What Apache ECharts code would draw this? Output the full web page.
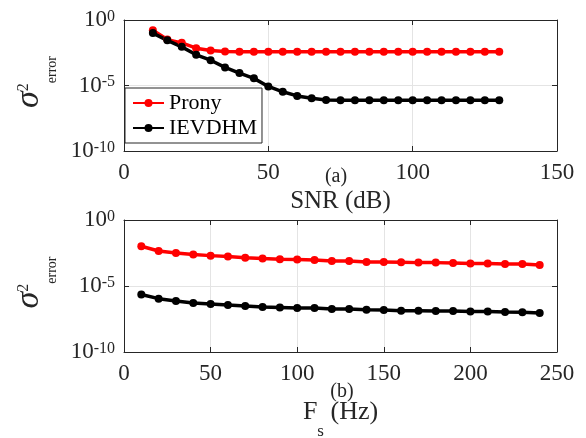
<!DOCTYPE html>
<html>
<head>
<meta charset="utf-8">
<script src="https://cdn.jsdelivr.net/npm/echarts@6/dist/echarts.min.js"></script>
<style>
  html, body { margin: 0; padding: 0; background: #fff; }
  #chart { width: 586px; height: 438px; }
</style>
</head>
<body>
<div id="chart"></div>
<script>
// Error variance versus SNR (a) and versus sampling frequency (b)
const snrDb = [10, 15, 20, 25, 30, 35, 40, 45, 50, 55, 60, 65, 70, 75, 80, 85, 90, 95, 100, 105, 110, 115, 120, 125, 130];
const pronyBySnr = [1.66e-1, 3.2e-2, 1.8e-2, 7.1e-3, 4.7e-3, 4.0e-3, 3.8e-3, 3.8e-3, 3.8e-3, 3.8e-3, 3.8e-3, 3.8e-3, 3.8e-3,
  3.8e-3, 3.8e-3, 3.8e-3, 3.8e-3, 3.8e-3, 3.8e-3, 3.8e-3, 3.8e-3, 3.8e-3, 3.8e-3, 3.8e-3, 3.8e-3];
const ievdhmBySnr = [1.0e-1, 2.8e-2, 8.9e-3, 2.2e-3, 8.5e-4, 2.4e-4, 8.9e-5, 3.5e-5, 8.5e-6, 3.3e-6, 1.6e-6, 1.05e-6, 7.9e-7,
  7.6e-7, 7.6e-7, 7.6e-7, 7.6e-7, 7.6e-7, 7.6e-7, 7.6e-7, 7.6e-7, 7.6e-7, 7.6e-7, 7.6e-7, 7.6e-7];

const fsHz = [10, 20, 30, 40, 50, 60, 70, 80, 90, 100, 110, 120, 130, 140, 150, 160, 170, 180, 190, 200, 210, 220, 230, 240];
const pronyByFs = [1.02e-2, 4.5e-3, 3.2e-3, 2.4e-3, 2.0e-3, 1.7e-3, 1.41e-3, 1.2e-3, 1.05e-3, 1.0e-3, 9.5e-4, 7.9e-4,
  7.9e-4, 6.6e-4, 6.6e-4, 6.3e-4, 5.9e-4, 5.9e-4, 5.5e-4, 5.0e-4, 5.0e-4, 4.7e-4, 4.7e-4, 3.9e-4];
const ievdhmByFs = [2.3e-6, 1.1e-6, 7.4e-7, 5.2e-7, 4.4e-7, 3.6e-7, 3.0e-7, 2.6e-7, 2.4e-7, 2.2e-7, 2.2e-7, 1.8e-7,
  1.8e-7, 1.6e-7, 1.5e-7, 1.35e-7, 1.35e-7, 1.3e-7, 1.3e-7, 1.15e-7, 1.15e-7, 1.07e-7, 1.02e-7, 8.9e-8];

const snrTicks = [0, 50, 100, 150];
const fsTicks = [0, 50, 100, 150, 200, 250];
const errorTicks = [1e-10, 1e-5, 1];

const FONT = 'Liberation Serif';
const INK = '#262626';
const GRID_LINE = '#e4e4e4';

function pairs(xs, ys) { return xs.map((x, i) => [x, ys[i]]); }

function powerLabel(v) {
  const e = Math.round(Math.log10(v));
  return '{b|10}{p|' + e + '}';
}

const powerRich = {
  b: { fontSize: 23, lineHeight: 23, verticalAlign: 'bottom', fontFamily: FONT, color: INK },
  p: { fontSize: 16, lineHeight: 16, verticalAlign: 'top', padding: [0, 0, 14, 0], fontFamily: FONT, color: INK }
};

// sigma with raised "2" and lowered "error"
const sigmaName = '{s|σ}{u|2}{d|error}';
const sigmaRich = {
  s: { fontSize: 34, lineHeight: 34, fontStyle: 'italic', verticalAlign: 'top', padding: [0, 0, 0, 7], fontFamily: FONT, color: INK },
  u: { fontSize: 16, lineHeight: 16, verticalAlign: 'top', padding: [4, 0, 0, 0], fontFamily: FONT, color: INK },
  d: { fontSize: 14, lineHeight: 14, verticalAlign: 'top', padding: [34, 0, 0, 0], fontFamily: FONT, color: INK }
};

function bottomX(grid, ticks, name, nameGap, nameStyle) {
  return {
    gridIndex: grid, type: 'value', position: 'bottom',
    min: ticks[0], max: ticks[ticks.length - 1], interval: ticks[1] - ticks[0],
    axisLine: { show: true, onZero: false, lineStyle: { color: INK, width: 1 } },
    axisTick: { show: true, inside: true, length: 5, lineStyle: { color: INK } },
    axisLabel: { margin: 10, fontSize: 23, fontFamily: FONT, color: INK },
    splitLine: { show: true, lineStyle: { color: GRID_LINE, width: 1 } },
    name: name, nameLocation: 'middle', nameGap: nameGap, nameTextStyle: nameStyle
  };
}
function topX(grid, ticks) {
  return {
    gridIndex: grid, type: 'value', position: 'top',
    min: ticks[0], max: ticks[ticks.length - 1], interval: ticks[1] - ticks[0],
    axisLine: { show: true, onZero: false, lineStyle: { color: INK, width: 1 } },
    axisTick: { show: true, inside: true, length: 5, lineStyle: { color: INK } },
    axisLabel: { show: false }, splitLine: { show: false }
  };
}
function leftY(grid) {
  return {
    gridIndex: grid, type: 'log', logBase: 10, position: 'left',
    min: errorTicks[0], max: errorTicks[errorTicks.length - 1], interval: 5,
    axisLine: { show: true, onZero: false, lineStyle: { color: INK, width: 1 } },
    axisTick: { show: true, inside: true, length: 5, lineStyle: { color: INK } },
    axisLabel: { margin: 9, formatter: powerLabel, rich: powerRich },
    splitLine: { show: true, lineStyle: { color: GRID_LINE, width: 1 } },
    minorTick: { show: false },
    name: sigmaName, nameLocation: 'middle', nameRotate: 90, nameGap: 71,
    nameTextStyle: { rich: sigmaRich }
  };
}
function rightY(grid) {
  return {
    gridIndex: grid, type: 'log', logBase: 10, position: 'right',
    min: errorTicks[0], max: errorTicks[errorTicks.length - 1], interval: 5,
    axisLine: { show: true, onZero: false, lineStyle: { color: INK, width: 1 } },
    axisTick: { show: true, inside: true, length: 5, lineStyle: { color: INK } },
    axisLabel: { show: false }, splitLine: { show: false }
  };
}

function lineSeries(name, color, xi, yi, data) {
  return {
    name: name, type: 'line', xAxisIndex: xi, yAxisIndex: yi, data: data,
    color: color, symbol: 'circle', symbolSize: 8, showSymbol: true,
    lineStyle: { color: color, width: 3.5 }, itemStyle: { color: color },
    animation: false, z: 3
  };
}

const chart = echarts.init(document.getElementById('chart'), null, { renderer: 'canvas' });
chart.setOption({
  backgroundColor: '#fff',
  animation: false,
  textStyle: { fontFamily: FONT },
  grid: [
    { left: 124, top: 20, width: 433, height: 131, containLabel: false, outerBoundsMode: 'none' },
    { left: 124, top: 220, width: 433, height: 132, containLabel: false, outerBoundsMode: 'none' }
  ],
  xAxis: [
    bottomX(0, snrTicks, 'SNR (dB)', 38, { fontSize: 25, fontFamily: FONT, color: INK }),
    topX(0, snrTicks),
    bottomX(1, fsTicks, '{f|F}{s|s}{f| (Hz)}', 47, {
      rich: {
        f: { fontSize: 26, lineHeight: 26, verticalAlign: 'top', fontFamily: FONT, color: INK },
        s: { fontSize: 17, lineHeight: 17, verticalAlign: 'top', padding: [24, 0, 0, 0], fontFamily: FONT, color: INK }
      }
    }),
    topX(1, fsTicks)
  ],
  yAxis: [leftY(0), rightY(0), leftY(1), rightY(1)],
  legend: {
    data: ['Prony', 'IEVDHM'], orient: 'vertical', left: 125, top: 88,
    padding: [4, 5, 4, 7], itemGap: 3, itemWidth: 31, itemHeight: 10,
    backgroundColor: '#fff', borderColor: INK, borderWidth: 1,
    textStyle: { fontFamily: FONT, fontSize: 22, color: '#000' }
  },
  graphic: [
    { type: 'text', x: 336, y: 177, style: { text: '(a)', font: '20px "Liberation Serif"', fill: INK, align: 'center', verticalAlign: 'middle' } },
    { type: 'text', x: 342, y: 392, style: { text: '(b)', font: '20px "Liberation Serif"', fill: INK, align: 'center', verticalAlign: 'middle' } }
  ],
  series: [
    lineSeries('Prony', '#ff0000', 0, 0, pairs(snrDb, pronyBySnr)),
    lineSeries('IEVDHM', '#000000', 0, 0, pairs(snrDb, ievdhmBySnr)),
    lineSeries('Prony', '#ff0000', 2, 2, pairs(fsHz, pronyByFs)),
    lineSeries('IEVDHM', '#000000', 2, 2, pairs(fsHz, ievdhmByFs))
  ]
});
</script>
</body>
</html>
